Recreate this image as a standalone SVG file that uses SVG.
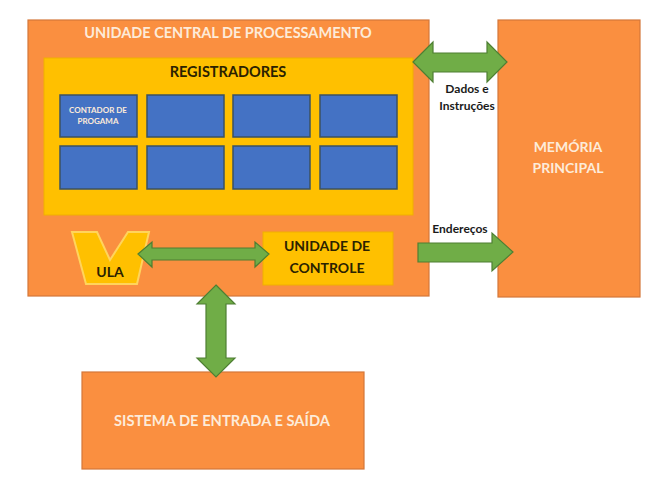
<svg xmlns="http://www.w3.org/2000/svg" width="667" height="488" viewBox="0 0 667 488">
<style>
.org{fill:#fa8f40;stroke:#d4773a;stroke-width:1.2}
.yel{fill:#ffc000;stroke:#f0b000;stroke-width:1}
.reg{fill:#4472c4;stroke:#3b5262;stroke-width:1.5}
.arr{fill:#70ad47;stroke:#4e7f33;stroke-width:1.2;stroke-linejoin:miter}
.t{font-family:Lato,"Liberation Sans",sans-serif;font-weight:bold;text-anchor:middle}
.w{fill:#fdebd9}
.d{fill:#2b2200}
.k{fill:#1a1a1a}
</style>
<rect width="667" height="488" fill="#ffffff"/>
<g id="cpu">
<rect class="org" x="28" y="20" width="401" height="276"/>
<text class="t w" x="228" y="38" font-size="14.5">UNIDADE CENTRAL DE PROCESSAMENTO</text>
</g>
<g id="registradores">
<rect class="yel" x="44" y="58" width="369" height="157"/>
<text class="t d" x="228" y="77" font-size="14.5">REGISTRADORES</text>
</g>
<g id="reg1"><rect class="reg" x="60" y="95" width="77" height="42"/>
<text class="t w" x="98" y="113" font-size="8">CONTADOR DE</text>
<text class="t w" x="98" y="124" font-size="8">PROGAMA</text></g>
<g id="reg2"><rect class="reg" x="147" y="95" width="77" height="42"/></g>
<g id="reg3"><rect class="reg" x="233" y="95" width="77" height="42"/></g>
<g id="reg4"><rect class="reg" x="320" y="95" width="77" height="42"/></g>
<g id="reg5"><rect class="reg" x="60" y="146" width="77" height="43"/></g>
<g id="reg6"><rect class="reg" x="147" y="146" width="77" height="43"/></g>
<g id="reg7"><rect class="reg" x="233" y="146" width="77" height="43"/></g>
<g id="reg8"><rect class="reg" x="320" y="146" width="77" height="43"/></g>
<g id="ula">
<path d="M72,232 L97,232 L110,260 L128,232 L149,232 L137,284 L86,284 Z" fill="#ffc000" stroke="#ffd45c" stroke-width="2"/>
<text class="t d" x="110" y="277" font-size="14">ULA</text>
</g>
<g id="uc">
<rect class="yel" x="263" y="232" width="130" height="53"/>
<text class="t d" x="327" y="251" font-size="14">UNIDADE DE</text>
<text class="t d" x="327" y="273" font-size="14">CONTROLE</text>
</g>
<g id="memoria">
<rect class="org" x="498" y="20" width="142" height="277"/>
<text class="t w" x="568" y="152" font-size="14">MEMÓRIA</text>
<text class="t w" x="568" y="173" font-size="14">PRINCIPAL</text>
</g>
<g id="es">
<rect class="org" x="82" y="372" width="282" height="97"/>
<text class="t w" x="222" y="426" font-size="14.7">SISTEMA DE ENTRADA E SAÍDA</text>
</g>
<g id="connectors">
<path class="arr" d="M413,62 L433,42 L433,53 L487,53 L487,42 L507,62 L487,82 L487,72 L433,72 L433,82 Z"/>
<path class="arr" d="M418,243 L492,243 L492,233 L513,252 L492,271 L492,262 L418,262 Z"/>
<path class="arr" d="M138,254 L152,242 L152,248 L255,248 L255,242 L269,254 L255,267 L255,260 L152,260 L152,267 Z"/>
<path class="arr" d="M216,285 L235,304 L226,304 L226,358 L235,358 L216,377 L197,358 L206,358 L206,304 L197,304 Z"/>
</g>
<g id="labels">
<text class="t k" x="467" y="93" font-size="12">Dados e</text>
<text class="t k" x="467" y="110" font-size="12">Instruções</text>
<text class="t k" x="460" y="233" font-size="12">Endereços</text>
</g>
</svg>
